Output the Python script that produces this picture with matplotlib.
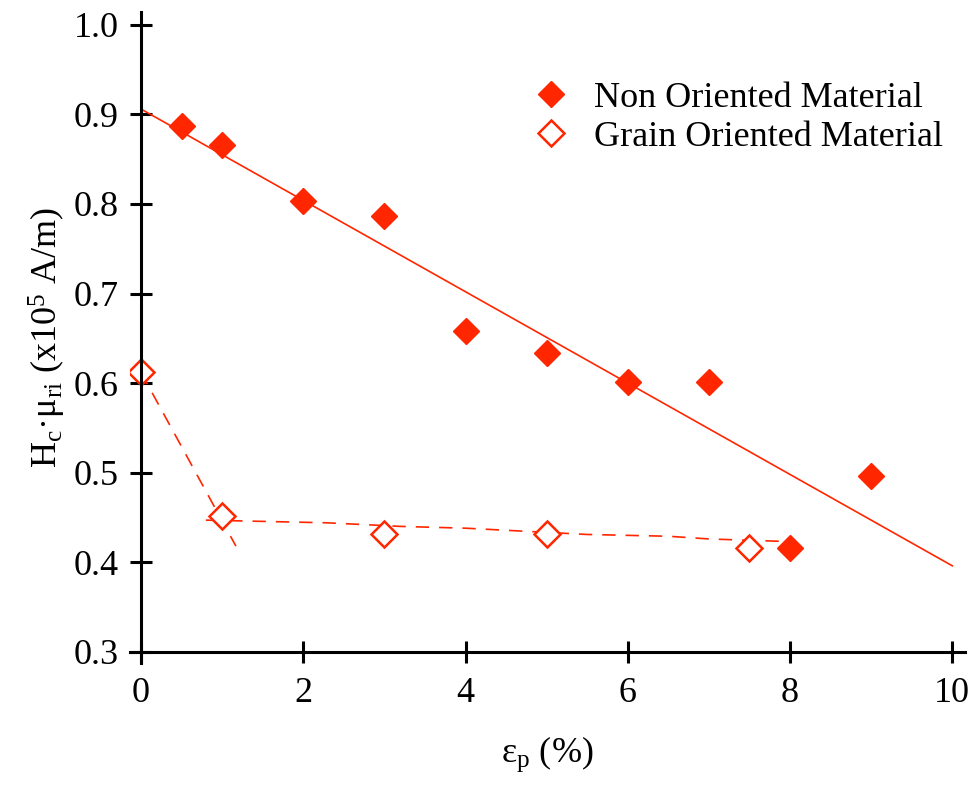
import matplotlib.pyplot as plt
import numpy as np

# non oriented material
non_x = [0.5, 1, 2, 3, 4, 5, 6, 7, 8, 9]
non_y = [0.887, 0.866, 0.803, 0.787, 0.658, 0.634, 0.601, 0.601, 0.416, 0.496]
# linear fit drawn in the figure
fit_x = [0, 10]
fit_y = [0.906, 0.396]

# grain oriented material
grain_x = [0, 1, 3, 5, 7.5]
grain_y = [0.612, 0.452, 0.432, 0.432, 0.416]
# dashed guide curves
dash1_x = [0, 1.17]
dash1_y = [0.612, 0.418]
dash2_x = [0.8, 2.3, 3.2, 4.0, 5.5, 6.5, 7.0, 8.0]
dash2_y = [0.447, 0.444, 0.440, 0.438, 0.431, 0.429, 0.426, 0.423]

red = '#ff2600'

plt.rcParams['font.family'] = ['Liberation Serif', 'DejaVu Serif']
plt.rcParams['mathtext.fontset'] = 'custom'
plt.rcParams['mathtext.rm'] = 'Liberation Serif'
plt.rcParams['mathtext.it'] = 'Liberation Serif:italic'

fig = plt.figure(figsize=(9.77, 7.9), dpi=100)
ax = fig.add_axes([0.133, 0.161, 0.855, 0.824])

ax.plot(fit_x, fit_y, color=red, lw=1.2)
ax.plot(dash1_x, dash1_y, color=red, lw=1.2, dashes=(8, 6))
ax.plot(dash2_x, dash2_y, color=red, lw=1.2, dashes=(8, 6))
ax.plot(non_x, non_y, 'D', color=red, ms=13, mec=red, ls='none',
        label='Non Oriented Material')
ax.plot(grain_x, grain_y, 'D', mfc='white', mec=red, mew=1.8, ms=13,
        ls='none', label='Grain Oriented Material')

ax.set_xlim(-0.136, 10.16)
ax.set_ylim(0.2877, 1.0145)
ax.spines['left'].set_position(('data', 0))
ax.spines['bottom'].set_position(('data', 0.3))
for s in ['top', 'right']:
    ax.spines[s].set_visible(False)
for s in ['left', 'bottom']:
    ax.spines[s].set_linewidth(2.2)

ax.set_xticks(np.arange(0, 11, 2))
ax.set_yticks(np.arange(0.3, 1.01, 0.1))
ax.set_yticklabels(['%.1f' % v for v in np.arange(0.3, 1.01, 0.1)])
ax.tick_params(direction='inout', length=16, width=2.2, labelsize=26)
ax.tick_params(axis='y', pad=8)
ax.tick_params(axis='x', pad=10)

ax.set_xlabel('ε$_{\\rm p}$ (%)', fontsize=26, labelpad=18)
ax.set_ylabel('H$_{\\rm c}$·μ$_{\\rm ri}$ (x10$^{5}$ A/m)', fontsize=26, labelpad=4)

ax.legend(loc='upper left', bbox_to_anchor=(0.465, 0.915), frameon=False,
          fontsize=26, handlelength=1, handletextpad=0.7, labelspacing=0.15,
          borderaxespad=0)

fig.savefig('out.png', dpi=100)
